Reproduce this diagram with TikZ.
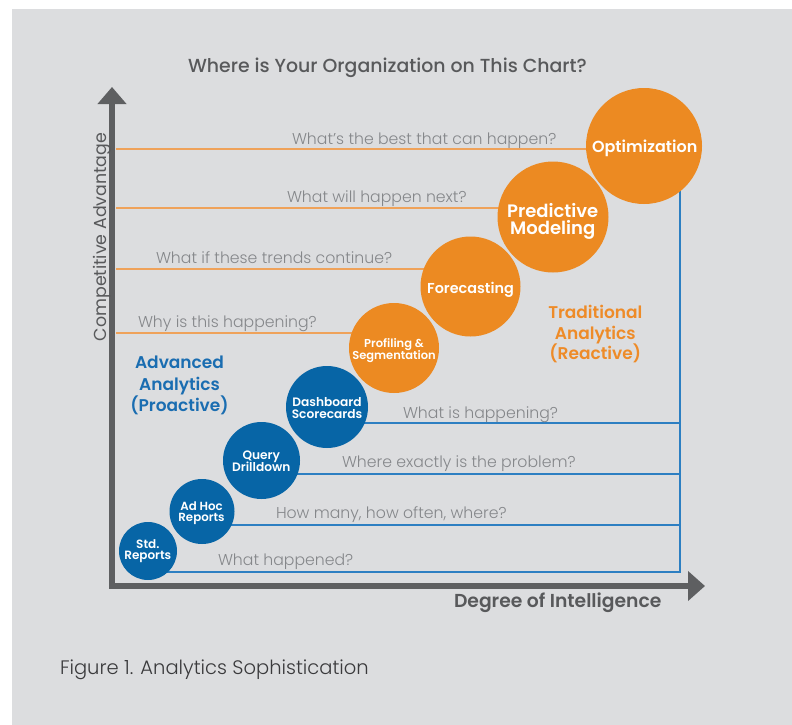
\documentclass[tikz,border=0pt]{standalone}
\usepackage{fontspec}
\usetikzlibrary{arrows.meta}
\setmainfont{Poppins}
\newfontfamily\lightf{Poppins Light}
\newfontfamily\regf{Poppins}
\newfontfamily\medf{Poppins Medium}
\newfontfamily\semif{Poppins SemiBold}
\definecolor{bgC}{HTML}{DCDDDF}
\definecolor{axisC}{HTML}{5E5F61}
\definecolor{darkT}{HTML}{58595B}
\definecolor{qgrey}{HTML}{85878A}
\definecolor{orangeC}{HTML}{EC8A22}
\definecolor{orangeL}{HTML}{EFA25A}
\definecolor{blueC}{HTML}{0765A6}
\definecolor{blueL}{HTML}{2D7FC2}
\definecolor{blueT}{HTML}{1A6DB1}
\definecolor{orangeT}{HTML}{EE8B28}
\definecolor{capC}{HTML}{3A3A3C}
\begin{document}
\begin{tikzpicture}[x=1pt,y=-1pt,
  every node/.style={inner sep=0pt,outer sep=0pt},
  orb/.style={circle,fill=orangeC,inner sep=0pt,minimum size=#1},
  bub/.style={circle,fill=blueC,inner sep=0pt,minimum size=#1},
  ctext/.style={text=white,anchor=base},
  qtext/.style={text=qgrey,anchor=base west,font=\lightf\fontsize{15.7}{18}\selectfont},
  oline/.style={draw=orangeL,line width=1.3pt},
  bline/.style={draw=blueL,line width=1.3pt},
  axisline/.style={draw=axisC,line width=6pt,line join=miter,
    {Triangle[length=17pt,width=28pt]}-{Triangle[length=17pt,width=29pt]}},
  glabel/.style={anchor=base,font=\semif\fontsize{17}{20}\selectfont}
]
\useasboundingbox (0,0) rectangle (792,725);
\fill[white] (0,0) rectangle (792,725);
\fill[bgC] (12,9) rectangle (792,725);

% title
\node[text=darkT,font=\medf\fontsize{18.9}{20}\selectfont,anchor=base] (title) at (387.5,72.7) {Where is Your Organization on This Chart?};

% axes
\coordinate (ytip) at (112,87);
\coordinate (origin) at (112,586);
\coordinate (xtip) at (705,586);
\draw[axisline] (ytip) -- (origin) -- (xtip);

% circle centres
\coordinate (optc) at (644,146);
\coordinate (predc) at (553,217);
\coordinate (forec) at (470.5,286.5);
\coordinate (profc) at (394,348);
\coordinate (dashc) at (327,407);
\coordinate (queryc) at (261.5,460.5);
\coordinate (adhocc) at (202,511.5);
\coordinate (stdc) at (148,551);

% line anchor coordinates
\coordinate (fr) at (680,572);
\coordinate (o1) at (116,149);
\coordinate (o2) at (116,208);
\coordinate (o3) at (116,269);
\coordinate (o4) at (116,333);
\coordinate (b1) at (680,423);
\coordinate (b2) at (680,474);
\coordinate (b3) at (680,525);

% lines (drawn before the circles, so they sit behind them)
\draw[oline] (o1) -- (optc |- o1);
\draw[oline] (o2) -- (predc |- o2);
\draw[oline] (o3) -- (forec |- o3);
\draw[oline] (o4) -- (profc |- o4);
\draw[bline] (stdc |- fr) -- (fr) -- (fr |- optc);
\draw[bline] (dashc |- b1) -- (b1);
\draw[bline] (queryc |- b2) -- (b2);
\draw[bline] (adhocc |- b3) -- (b3);

% circles
\node[orb=116pt] (opt) at (optc) {};
\node[orb=111pt] (pred) at (predc) {};
\node[orb=100pt] (fore) at (forec) {};
\node[orb=90pt] (prof) at (profc) {};
\node[bub=82pt] (dash) at (dashc) {};
\node[bub=77pt] (query) at (queryc) {};
\node[bub=65pt] (adhoc) at (adhocc) {};
\node[bub=58pt] (std) at (stdc) {};

% circle labels
\node[ctext,font=\semif\fontsize{16}{16}\selectfont] (optA) at (644.7,152.7) {Optimization};
\node[ctext,font=\semif\fontsize{18}{18}\selectfont] (predA) at (552.7,217.7) {Predictive};
\node[ctext,font=\semif\fontsize{18}{18}\selectfont] (predB) at (552.7,234) {Modeling};
\node[ctext,font=\semif\fontsize{14.4}{15}\selectfont] (foreA) at (470.5,293.3) {Forecasting};
\node[ctext,font=\semif\fontsize{11.5}{12}\selectfont] (profA) at (394,347.7) {Profiling \&};
\node[ctext,font=\semif\fontsize{11.5}{12}\selectfont] (profB) at (394,359.3) {Segmentation};
\node[ctext,font=\semif\fontsize{12.2}{12}\selectfont] (dashA) at (327,406.7) {Dashboard};
\node[ctext,font=\semif\fontsize{12.2}{12}\selectfont] (dashB) at (327,418.3) {Scorecards};
\node[ctext,font=\semif\fontsize{12.2}{12}\selectfont] (queryA) at (261.3,459.3) {Query};
\node[ctext,font=\semif\fontsize{12.2}{12}\selectfont] (queryB) at (261.3,471) {Drilldown};
\node[ctext,font=\semif\fontsize{11.8}{12}\selectfont] (adhocA) at (201.5,510.2) {Ad Hoc};
\node[ctext,font=\semif\fontsize{11.8}{12}\selectfont] (adhocB) at (201.5,521) {Reports};
\node[ctext,font=\semif\fontsize{12}{12}\selectfont] (stdA) at (147.8,548.3) {Std.};
\node[ctext,font=\semif\fontsize{12}{12}\selectfont] (stdB) at (147.8,559.3) {Reports};

% questions
\node[qtext] (q1) at (292,144) {What’s the best that can happen?};
\node[qtext] (q2) at (287,202.5) {What will happen next?};
\node[qtext] (q3) at (156,263.5) {What if these trends continue?};
\node[qtext] (q4) at (138,327.5) {Why is this happening?};
\node[qtext] (q5) at (403,418) {What is happening?};
\node[qtext] (q6) at (342,467.5) {Where exactly is the problem?};
\node[qtext] (q7) at (276,518.5) {How many, how often, where?};
\node[qtext] (q8) at (218,565.5) {What happened?};

% group labels
\node[glabel,text=blueT] (advA) at (179.5,368.7) {Advanced};
\node[glabel,text=blueT] (advB) at (179.5,390.5) {Analytics};
\node[glabel,text=blueT] (advC) at (179.5,411) {(Proactive)};
\node[glabel,text=orangeT] (tradA) at (595.3,318.3) {Traditional};
\node[glabel,text=orangeT] (tradB) at (595.3,339.3) {Analytics};
\node[glabel,text=orangeT] (tradC) at (595.3,359.5) {(Reactive)};

% axis labels
\node[text=darkT,font=\regf\fontsize{17.4}{20}\selectfont,rotate=90,anchor=base] (yl) at (106,237) {Competitive Advantage};
\node[text=darkT,font=\semif\fontsize{18.75}{20}\selectfont,anchor=base west] (xl) at (454,607.3) {Degree of Intelligence};

% caption
\node[text=capC,font=\lightf\fontsize{19.5}{22}\selectfont,anchor=base west] (cap) at (60,674) {Figure 1. Analytics Sophistication};
\end{tikzpicture}
\end{document}
